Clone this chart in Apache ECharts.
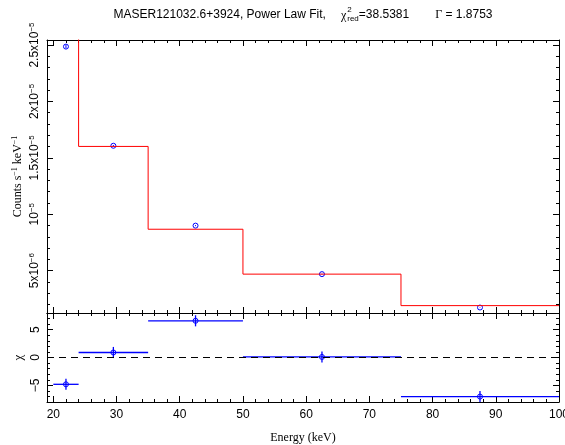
<!DOCTYPE html>
<html><head><meta charset="utf-8">
<script src="https://cdn.jsdelivr.net/npm/echarts@6/dist/echarts.min.js"></script>
<style>html,body{margin:0;padding:0;background:#fff}#c{width:565px;height:445px}</style>
</head><body><div id="c"></div>
<script>
// ---- data ----
const binLo = [20, 24, 35, 50, 75];
const binHi = [24, 35, 50, 75, 100];
const energy = [22, 29.5, 42.5, 62.5, 87.5];
const counts = [2.486e-5, 1.607e-5, 8.99e-6, 4.69e-6, 1.73e-6];
const countErr = [1.5e-7, 6.7e-8, 4.8e-8, 3.5e-8, 2.4e-8];
const model = [2.56e-5, 1.601e-5, 8.67e-6, 4.69e-6, 1.90e-6];
const chi = [-4.82, 0.9, 6.6, 0.1, -7.03];
const chiErr = [1, 1, 1, 1, 1];

const xTicks = [20, 30, 40, 50, 60, 70, 80, 90, 100];
const xTickLabels = ['20', '30', '40', '50', '60', '70', '80', '90', '100'];
const yTicks = [5e-6, 1e-5, 1.5e-5, 2e-5, 2.5e-5];
const yTickLabels = ['5x10{s|\u22126}', '10{s|\u22125}', '1.5x10{s|\u22125}', '2x10{s|\u22125}', '2.5x10{s|\u22125}'];
const chiTicks = [-5, 0, 5];
const chiTickLabels = ['\u22125', '0', '5'];

const titleMain = 'MASER121032.6+3924, Power Law Fit,';
const titleChi = '\u03c7';
const titleSup = '2';
const titleSub = 'red';
const titleStat = '=38.5381';
const titleGamma = '\u0393';
const titleGammaVal = ' = 1.8753';

// ---- ranges ----
const xMin = 19, xMax = 100;
const yMin = 1.245e-6, yMax = 2.5445e-5;
const cMin = -8, cMax = 8;

const xMinor = []; for (let v = 20; v <= 100; v += 2) xMinor.push(v);
const yMinor = []; for (let i = 2; i <= 25; i++) yMinor.push(i * 1e-6);
const cMinor = []; for (let v = -8; v <= 8; v++) cMinor.push(v);

const SANS = '"Liberation Sans", Arial, sans-serif';
const SERIF = '"Liberation Serif", "Times New Roman", serif';

// model step line
const stepPts = [];
for (let i = 0; i < model.length; i++) {
  stepPts.push([binLo[i], model[i]]);
  stepPts.push([binHi[i], model[i]]);
}

function idxOf(arr, v) {
  for (let i = 0; i < arr.length; i++) if (Math.abs(arr[i] - v) <= Math.abs(arr[i]) * 1e-6 + 1e-12) return i;
  return -1;
}

function xAx(g, pos, major, labels) {
  const a = {
    gridIndex: g, type: 'value', position: pos, min: xMin, max: xMax,
    axisLine: { show: major, onZero: false, lineStyle: { color: '#000', width: 1 } },
    axisTick: { show: true, inside: true, length: major ? 6 : 3, customValues: major ? xTicks : xMinor, lineStyle: { color: '#000', width: 1 } },
    axisLabel: { show: false },
    splitLine: { show: false }
  };
  if (labels) {
    a.axisLabel = {
      show: true, customValues: xTicks, margin: 7, color: '#000', fontFamily: SANS, fontSize: 12,
      alignMinLabel: 'center', alignMaxLabel: 'center',
      formatter: v => { const i = idxOf(xTicks, v); return i >= 0 ? xTickLabels[i] : ''; }
    };
    a.name = 'Energy (keV)';
    a.nameLocation = 'middle';
    a.nameGap = 30;
    a.nameMoveOverlap = false;
    a.nameTextStyle = { fontFamily: SERIF, fontSize: 12, color: '#000' };
  }
  return a;
}
function yAx(g, pos, major, min, max, ticks, minor) {
  return {
    gridIndex: g, type: 'value', position: pos, min: min, max: max,
    axisLine: { show: major, onZero: false, lineStyle: { color: '#000', width: 1 } },
    axisTick: { show: true, inside: true, length: major ? 6 : 3, customValues: major ? ticks : minor, lineStyle: { color: '#000', width: 1 } },
    axisLabel: { show: false },
    splitLine: { show: false }
  };
}

const xAxes = [
  xAx(0, 'bottom', true, false), xAx(0, 'bottom', false, false),
  xAx(0, 'top', true, false), xAx(0, 'top', false, false),
  xAx(1, 'bottom', true, true), xAx(1, 'bottom', false, false),
  xAx(1, 'top', true, false), xAx(1, 'top', false, false)
];
const yAxes = [
  yAx(0, 'left', true, yMin, yMax, yTicks, yMinor), yAx(0, 'left', false, yMin, yMax, yTicks, yMinor),
  yAx(0, 'right', true, yMin, yMax, yTicks, yMinor), yAx(0, 'right', false, yMin, yMax, yTicks, yMinor),
  yAx(1, 'left', true, cMin, cMax, chiTicks, cMinor), yAx(1, 'left', false, cMin, cMax, chiTicks, cMinor),
  yAx(1, 'right', true, cMin, cMax, chiTicks, cMinor), yAx(1, 'right', false, cMin, cMax, chiTicks, cMinor)
];
yAxes[0].axisLabel = {
  show: true, customValues: yTicks, rotate: 90, margin: 5, color: '#000', fontFamily: SANS, fontSize: 12, lineHeight: 14,
  formatter: v => { const i = idxOf(yTicks, v); return i >= 0 ? yTickLabels[i] : ''; },
  rich: { s: { fontSize: 8, lineHeight: 14, verticalAlign: 'top', fontFamily: SANS, color: '#000' } }
};
yAxes[0].name = 'Counts s{s|\u22121} keV{s|\u22121}';
yAxes[0].nameLocation = 'middle';
yAxes[0].nameGap = 22;
yAxes[0].nameMoveOverlap = false;
yAxes[0].nameTextStyle = { fontFamily: SERIF, fontSize: 12, color: '#000', lineHeight: 14,
  rich: { s: { fontSize: 8, lineHeight: 14, verticalAlign: 'top', fontFamily: SERIF, color: '#000' } } };
yAxes[4].axisLabel = {
  show: true, customValues: chiTicks, rotate: 90, margin: 5, color: '#000', fontFamily: SANS, fontSize: 12,
  formatter: v => { const i = idxOf(chiTicks, v); return i >= 0 ? chiTickLabels[i] : ''; }
};
yAxes[4].name = '\u03c7';
yAxes[4].nameLocation = 'middle';
yAxes[4].nameGap = 22;
yAxes[4].nameMoveOverlap = false;
yAxes[4].nameTextStyle = { fontFamily: SERIF, fontSize: 13, color: '#000' };

// ---- title layout ----
const mctx = document.createElement('canvas').getContext('2d');
function tw(t, f) { mctx.font = f; return mctx.measureText(t).width; }
const fMain = '12px ' + SANS, fSer = '12px ' + SERIF, fSm = '8px ' + SANS;
const gap1 = 15, gap2 = 26;
const wMain = tw(titleMain, fMain), wChi = tw(titleChi, fSer);
const wSS = Math.max(tw(titleSup, fSm), tw(titleSub, fSm));
const wStat = tw(titleStat, fMain), wG = tw(titleGamma, fSer), wGV = tw(titleGammaVal, fMain);
const total = wMain + gap1 + wChi + 1 + wSS + wStat + gap2 + wG + wGV;
const tx0 = 303 - total / 2;
const pChi = tx0 + wMain + gap1;
const pSS = pChi + wChi + 1;
const pStat = pSS + wSS;
const pG = pStat + wStat + gap2;
const pGV = pG + wG;
const ty = 15;
function gtext(x, y, text, font) {
  return { type: 'text', x: x, y: y, silent: true,
    style: { text: text, font: font, fill: '#000', textAlign: 'left', textVerticalAlign: 'middle' } };
}

const chart = echarts.init(document.getElementById('c'), null, { renderer: 'canvas' });
chart.setOption({
  animation: false,
  backgroundColor: '#fff',
  grid: [
    { left: 47, top: 40, width: 512, height: 273, outerBoundsMode: 'none' },
    { left: 47, top: 313, width: 512, height: 89, outerBoundsMode: 'none' }
  ],
  xAxis: xAxes,
  yAxis: yAxes,
  graphic: [
    gtext(tx0, ty, titleMain, fMain),
    gtext(pChi, ty + 1, titleChi, fSer),
    gtext(pSS, ty - 5, titleSup, fSm),
    gtext(pSS, ty + 4, titleSub, fSm),
    gtext(pStat, ty, titleStat, fMain),
    gtext(pG, ty, titleGamma, fSer),
    gtext(pGV, ty, titleGammaVal, fMain)
  ],
  series: [
    {
      type: 'line', xAxisIndex: 0, yAxisIndex: 0, data: stepPts, symbol: 'none', clip: true,
      lineStyle: { color: '#ff0000', width: 1 }, silent: true
    },
    {
      type: 'custom', xAxisIndex: 0, yAxisIndex: 0, clip: true,
      data: energy.map((e, i) => [e, counts[i], countErr[i]]),
      encode: { x: 0, y: 1 },
      renderItem: (params, api) => {
        const x = api.value(0), y = api.value(1), e = api.value(2);
        const c = api.coord([x, y]);
        const t = api.coord([x, y + e]), b = api.coord([x, y - e]);
        return { type: 'group', children: [
          { type: 'line', shape: { x1: c[0], y1: t[1], x2: c[0], y2: b[1] }, style: { stroke: '#0000ff', lineWidth: 1 } },
          { type: 'circle', shape: { cx: c[0], cy: c[1], r: 2.5 }, style: { stroke: '#0000ff', fill: 'none', lineWidth: 1 } }
        ] };
      }
    },
    {
      type: 'custom', xAxisIndex: 4, yAxisIndex: 4, clip: true,
      data: energy.map((e, i) => [e, chi[i], chiErr[i], binLo[i], binHi[i]]),
      encode: { x: 0, y: 1 },
      renderItem: (params, api) => {
        const x = api.value(0), y = api.value(1), e = api.value(2), lo = api.value(3), hi = api.value(4);
        const c = api.coord([x, y]);
        const l = api.coord([lo, y]), r = api.coord([hi, y]);
        const t = api.coord([x, y + e]), b = api.coord([x, y - e]);
        return { type: 'group', children: [
          { type: 'line', shape: { x1: l[0], y1: c[1], x2: r[0], y2: c[1] }, style: { stroke: '#0000ff', lineWidth: 1.3 } },
          { type: 'line', shape: { x1: c[0], y1: t[1], x2: c[0], y2: b[1] }, style: { stroke: '#0000ff', lineWidth: 1.3 } },
          { type: 'circle', shape: { cx: c[0], cy: c[1], r: 2.5 }, style: { stroke: '#0000ff', fill: 'none', lineWidth: 1 } }
        ] };
      },
      markLine: {
        silent: true, symbol: 'none', label: { show: false },
        lineStyle: { color: '#000', width: 1, type: [7, 5] },
        data: [{ yAxis: 0 }]
      }
    }
  ]
});
</script>
</body></html>
